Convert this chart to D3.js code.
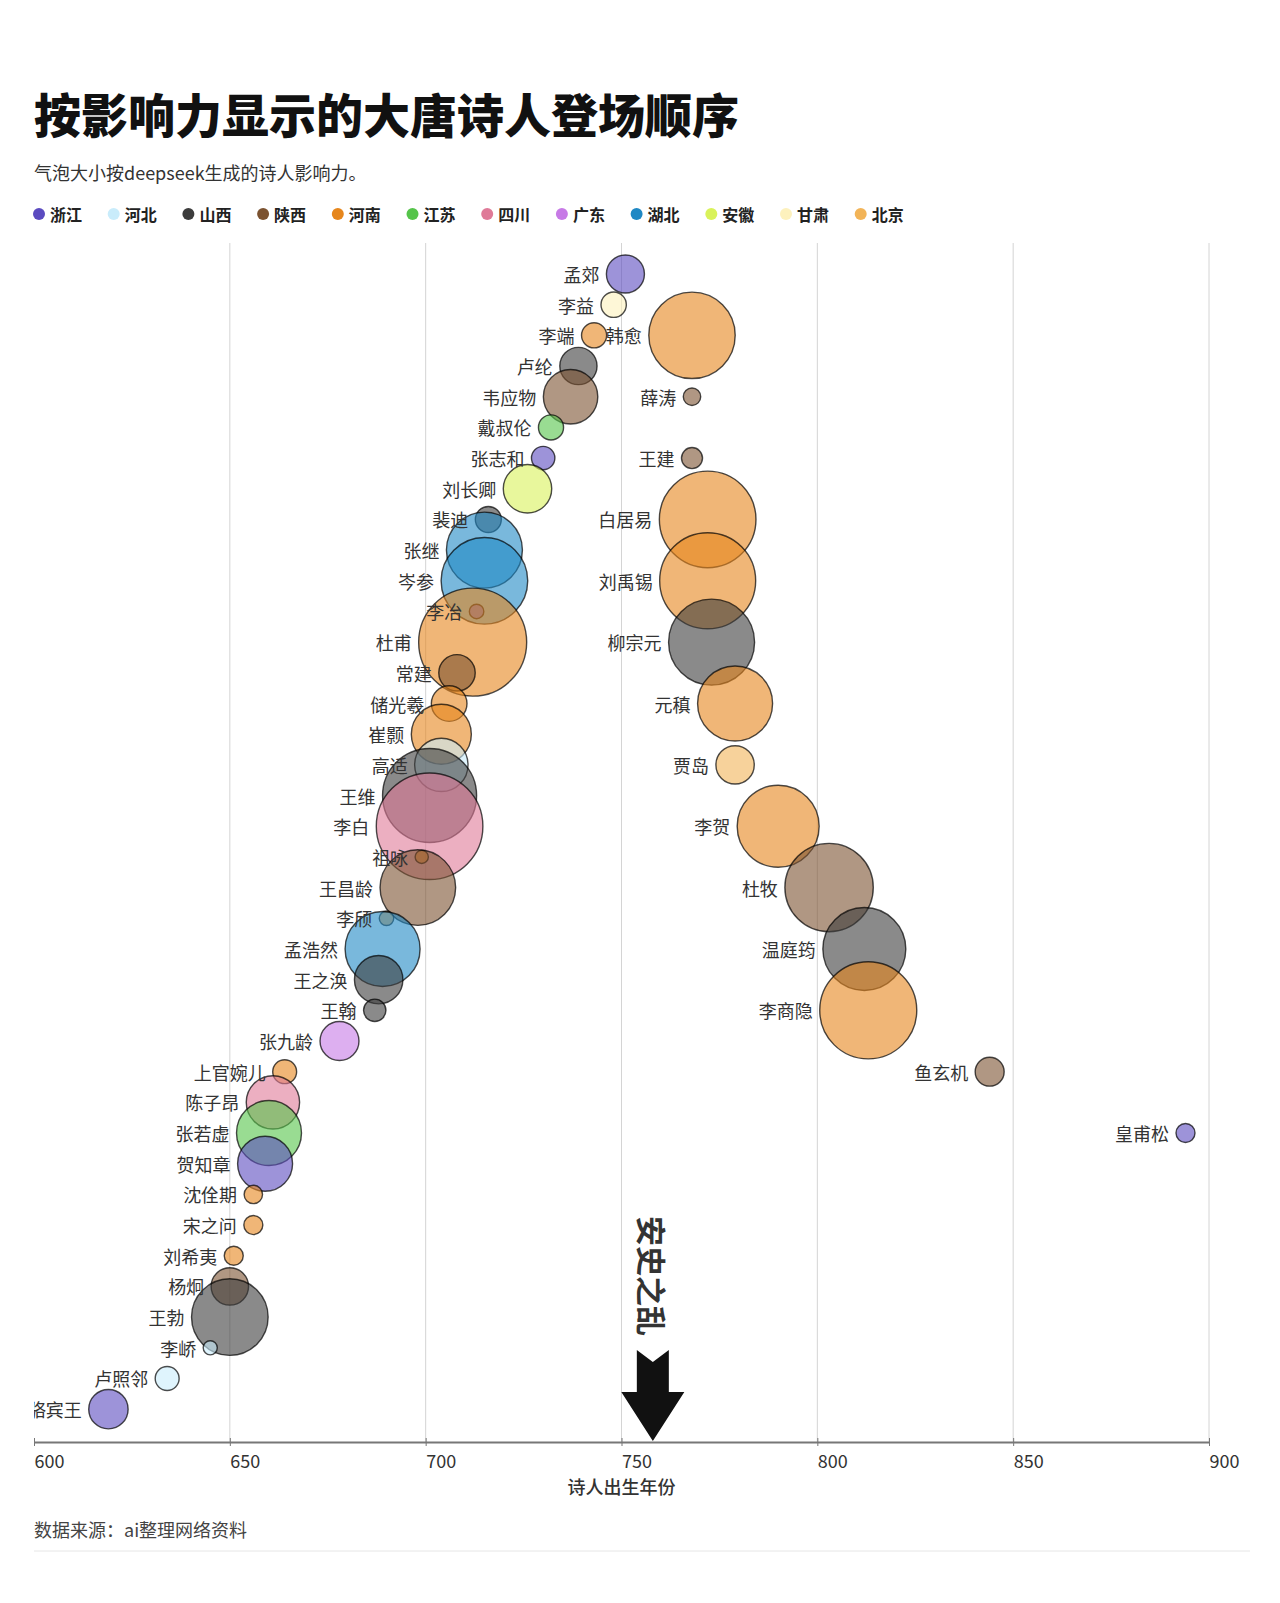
<!DOCTYPE html>
<html><head><meta charset="utf-8">
<script src="https://cdn.jsdelivr.net/npm/d3@7"></script>
<style>
body{margin:0;background:#fff}
text{font-family:"Noto Sans CJK SC","Noto Sans",sans-serif}
</style></head>
<body><svg id="c" width="1280" height="1603"></svg>
<script>
// ---- data ----
const provinces = ["浙江","河北","山西","陕西","河南","江苏","四川","广东","湖北","安徽","甘肃","北京"];
const provinceColors = ["#5b4bc0","#c9ecfb","#3c3c3c","#7b5230","#e6861c","#55c44a","#df7a98","#c77ae6","#1f88c4","#d9f25a","#fdf1bd","#f2b458"];

// poets in order of appearance (early chain top->bottom, then late chain top->bottom)
const poets = ["孟郊","李益","李端","卢纶","韦应物","戴叔伦","张志和","刘长卿","裴迪","张继","岑参","李冶","杜甫","常建","储光羲","崔颢","高适","王维","李白","祖咏","王昌龄","李颀","孟浩然","王之涣","王翰","张九龄","上官婉儿","陈子昂","张若虚","贺知章","沈佺期","宋之问","刘希夷","杨炯","王勃","李峤","卢照邻","骆宾王",
  "韩愈","薛涛","王建","白居易","刘禹锡","柳宗元","元稹","贾岛","李贺","杜牧","温庭筠","李商隐","鱼玄机","皇甫松"];
const birthYears = [751,748,743,739,737,732,730,726,716,715,715,713,712,708,706,704,704,701,701,699,698,690,689,688,687,678,664,661,660,659,656,656,651,650,650,645,634,619,
  768,768,768,772,772,773,779,779,790,803,812,813,844,894];
const influence = [12.4,5.5,5.4,11.9,25.4,5.4,4.7,20.1,5.8,49.5,64.3,1.8,100,11.4,10.9,30.9,24.4,75.8,97.4,1.5,49,1.8,48.2,20.1,4.3,13,4.9,24.4,36.2,25.9,2.9,3.1,3.1,12,50.3,1.7,4.9,13.3,
  64,2.6,3.8,80,79,63.4,48.2,12.6,57.6,67,59,80.7,7.2,3.1];
const origin = ["浙江","甘肃","河南","山西","陕西","江苏","浙江","安徽","山西","湖北","湖北","浙江","河南","陕西","河南","河南","河北","山西","四川","河南","陕西","河南","湖北","山西","山西","广东","河南","四川","江苏","浙江","河南","河南","河南","陕西","山西","河北","河北","浙江",
  "河南","陕西","陕西","河南","河南","山西","河南","北京","河南","陕西","山西","河南","陕西","浙江"];
const xTicks = [600,650,700,750,800,850,900];
const rebellionYear = 758;
const title = "按影响力显示的大唐诗人登场顺序";
const subtitle = "气泡大小按deepseek生成的诗人影响力。";
const xLabel = "诗人出生年份";
const source = "数据来源：ai整理网络资料";
const eventLabel = "安史之乱";

// ---- build ----
const svg = d3.select("#c");
svg.append("rect").attr("width",1280).attr("height",1603).attr("fill","#fff");

const color = d3.scaleOrdinal().domain(provinces).range(provinceColors);
const x = d3.scaleLinear().domain([600,900]).range([34,1209]);
const nRows = 38;
const y = d3.scalePoint().domain(d3.range(nRows)).range([274, 274 + 37*30.68]);
const r = d3.scaleSqrt().domain([0,100]).range([0,54]);

// rows: early group fills each row; late group (born after 760) every other row from row 2
let early = 0, late = 0;
const data = poets.map((n,i) => {
  const isLate = birthYears[i] > 760;
  const row = isLate ? 2 + 2*(late++) : early++;
  return {name:n, year:birthYears[i], v:influence[i], prov:origin[i], row};
});

svg.append("defs").append("clipPath").attr("id","plot")
  .append("rect").attr("x",34).attr("y",230).attr("width",1246).attr("height",1212);

svg.append("text").attr("x",34).attr("y",112).attr("dominant-baseline","central")
  .attr("font-size",47).attr("font-weight",900).attr("fill","#111").text(title);
svg.append("text").attr("x",34).attr("y",172).attr("dominant-baseline","central")
  .attr("font-size",18).attr("fill","#333").text(subtitle);

const leg = svg.append("g").selectAll("g").data(provinces).join("g")
  .attr("transform",(d,i)=>`translate(${39 + i*74.7},214)`);
leg.append("circle").attr("r",6).attr("fill",d=>color(d));
leg.append("text").attr("x",11).attr("dominant-baseline","central").attr("font-size",16)
  .attr("font-weight",700).attr("fill","#222").text(d=>d);

// grid
svg.append("g").selectAll("line").data(xTicks.filter(t=>t>600)).join("line")
  .attr("x1",d=>x(d)).attr("x2",d=>x(d)).attr("y1",243).attr("y2",1442)
  .attr("stroke","#d4d4d4").attr("stroke-width",1);

// axis
const ax = svg.append("g").attr("transform","translate(0,1442)")
  .call(d3.axisBottom(x).tickValues(xTicks).tickFormat(d3.format("d")).tickSizeInner(4).tickSizeOuter(0));
ax.select(".domain").attr("stroke","#777").attr("stroke-width",2);
ax.selectAll(".tick line").attr("stroke","#777").attr("y1",-4).attr("y2",4);
ax.selectAll(".tick text").attr("text-anchor","start").attr("x",0).attr("y",20).attr("dy","0.35em")
  .attr("font-size",18).attr("fill","#333").style("font-family",'"Noto Sans CJK SC",sans-serif');
svg.append("text").attr("x",(x(600)+x(900))/2).attr("y",1486).attr("text-anchor","middle")
  .attr("dominant-baseline","central").attr("font-size",18).attr("font-weight",500).attr("fill","#333").text(xLabel);

const plot = svg.append("g").attr("clip-path","url(#plot)");

// bubbles
plot.append("g").selectAll("circle").data(data).join("circle")
  .attr("cx",d=>x(d.year)).attr("cy",d=>y(d.row)).attr("r",d=>r(d.v))
  .attr("fill",d=>color(d.prov)).attr("fill-opacity",0.6)
  .attr("stroke","#000").attr("stroke-opacity",0.7).attr("stroke-width",1.4);

// labels
plot.append("g").selectAll("text").data(data).join("text")
  .attr("x",d=>x(d.year)-r(d.v)-7).attr("y",d=>y(d.row))
  .attr("text-anchor","end").attr("dominant-baseline","central")
  .attr("font-size",18).attr("fill","#333").text(d=>d.name);

// rebellion annotation
const ex = x(rebellionYear);
svg.append("path").attr("fill","#111")
  .attr("d",`M${ex-16},1350 L${ex},1362 L${ex+16},1350 L${ex+16},1392 L${ex+31.5},1392 L${ex},1441 L${ex-31.5},1392 L${ex-16},1392 Z`);
svg.append("text").attr("transform",`translate(${ex},1276) rotate(90)`)
  .attr("text-anchor","middle").attr("dominant-baseline","central")
  .attr("font-size",30).attr("font-weight",700).attr("fill","#333").text(eventLabel);

// footer
svg.append("text").attr("x",34).attr("y",1529).attr("dominant-baseline","central")
  .attr("font-size",18).attr("fill","#444").text(source);
svg.append("line").attr("x1",34).attr("x2",1250).attr("y1",1551).attr("y2",1551)
  .attr("stroke","#e6e6e6").attr("stroke-width",1);
</script></body></html>
